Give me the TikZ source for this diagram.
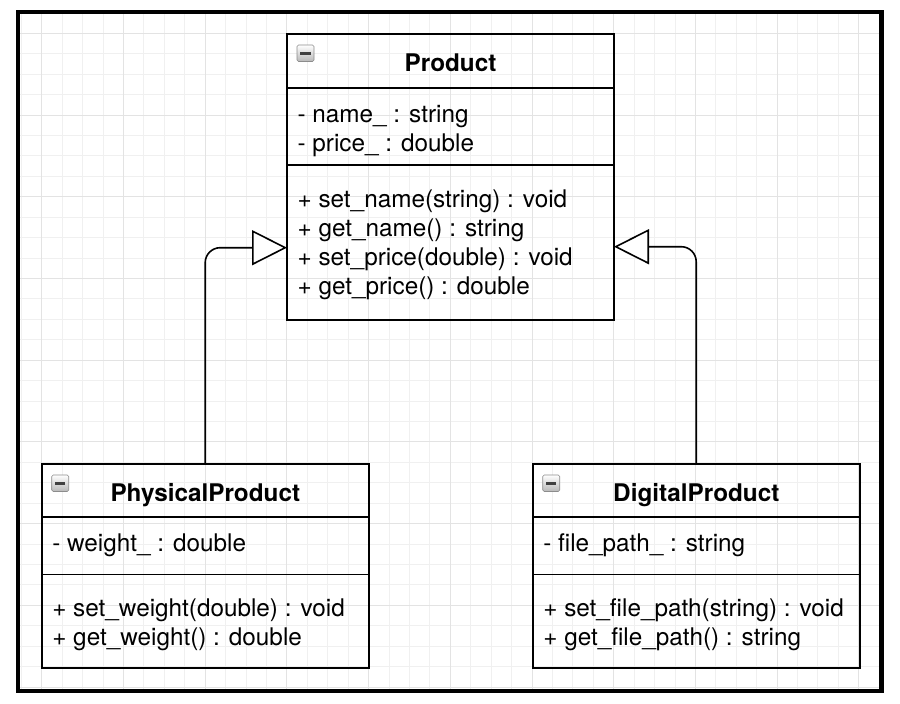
\documentclass[tikz,border=0pt]{standalone}
\usepackage{fontspec}
\setmainfont{TeX Gyre Heros}
\usetikzlibrary{arrows.meta}

\begin{document}
\begin{tikzpicture}[x=1pt,y=-1pt]
\tikzstyle{every node}=[inner sep=0pt,outer sep=0pt,font=\fontsize{24.3}{29}\selectfont];
\tikzstyle{classbox}=[draw,line width=1.6pt,anchor=north west,minimum width=327pt];
\tikzstyle{member}=[anchor=base west];
\tikzstyle{title}=[anchor=base,font=\fontsize{24.3}{29}\selectfont\bfseries];
\tikzstyle{inherit}=[line width=1.6pt,rounded corners=15pt,-{Triangle[length=35pt,width=35pt,fill=white]}];
\tikzstyle{gridline}=[line width=0.8pt,black!6];

\useasboundingbox (0,0) rectangle (900,704);

% grid
\foreach \k in {0,...,42}
  \draw[gridline] ({21.3+20.425*\k},12) -- ({21.3+20.425*\k},691);
\foreach \k in {0,...,32}
  \draw[gridline] (18,{33.3+20.425*\k}) -- (882,{33.3+20.425*\k});
\foreach \k in {0,...,10}
  \draw[gridline,black!11] ({41.7+81.7*\k},12) -- ({41.7+81.7*\k},691);
\foreach \k in {0,...,8}
  \draw[gridline,black!11] (18,{33.3+81.7*\k}) -- (882,{33.3+81.7*\k});

\draw[line width=4.5pt] (18,12) rectangle (881.5,690.8);

  \node[classbox,minimum height=286pt] (product) at (287,34) {};
  \node[classbox,minimum height=204pt] (physical) at (41.7,464) {};
  \node[classbox,minimum height=204pt] (digital) at (532.7,464) {};

\foreach \c/\a/\b in {product/53.7/131, physical/52.7/110.3, digital/52.7/110.3} {
  \draw[line width=1.6pt] ([yshift=-\a]\c.north west) -- ([yshift=-\a]\c.north east);
  \draw[line width=1.6pt] ([yshift=-\b]\c.north west) -- ([yshift=-\b]\c.north east);
  \shade[top color=white,bottom color=black!28,draw=black!45,line width=0.6pt,rounded corners=1.5pt]
    ([shift={(10,11)}]\c.north west) rectangle ++(17,16.5);
  \fill[black!75] ([shift={(13,18.3)}]\c.north west) rectangle ++(10.7,2.4);
}

  \node[title] (ptitle) at (450.5,71.7) {Product};
  \node[title] (phtitle) at (205.3,501.7) {PhysicalProduct};
  \node[title] (dtitle) at (696.3,501.7) {DigitalProduct};

\foreach \t [count=\i from 0] in {{- name\_ : string}, {- price\_ : double}}
  \node[member] (pa\i) at (297.6,{122.7+29*\i}) {\t};
\foreach \t [count=\i from 0] in {{+ set\_name(string) : void}, {+ get\_name() : string},
    {+ set\_price(double) : void}, {+ get\_price() : double}}
  \node[member] (pm\i) at (297.6,{207.3+29*\i}) {\t};

  \node[member] (pha0) at (52.3,551.7) {- weight\_ : double};
\foreach \t [count=\i from 0] in {{+ set\_weight(double) : void}, {+ get\_weight() : double}}
  \node[member] (phm\i) at (52.3,{616.7+29*\i}) {\t};

  \node[member] (da0) at (543.3,551.7) {- file\_path\_ : string};
\foreach \t [count=\i from 0] in {{+ set\_file\_path(string) : void}, {+ get\_file\_path() : string}}
  \node[member] (dm\i) at (543.3,{616.7+29*\i}) {\t};

  \coordinate (lhook) at (287,247.7);
  \coordinate (rhook) at (614,246.7);
\draw[inherit] (physical.north) |- (lhook);
\draw[inherit] (digital.north) |- (rhook);

\end{tikzpicture}
\end{document}
